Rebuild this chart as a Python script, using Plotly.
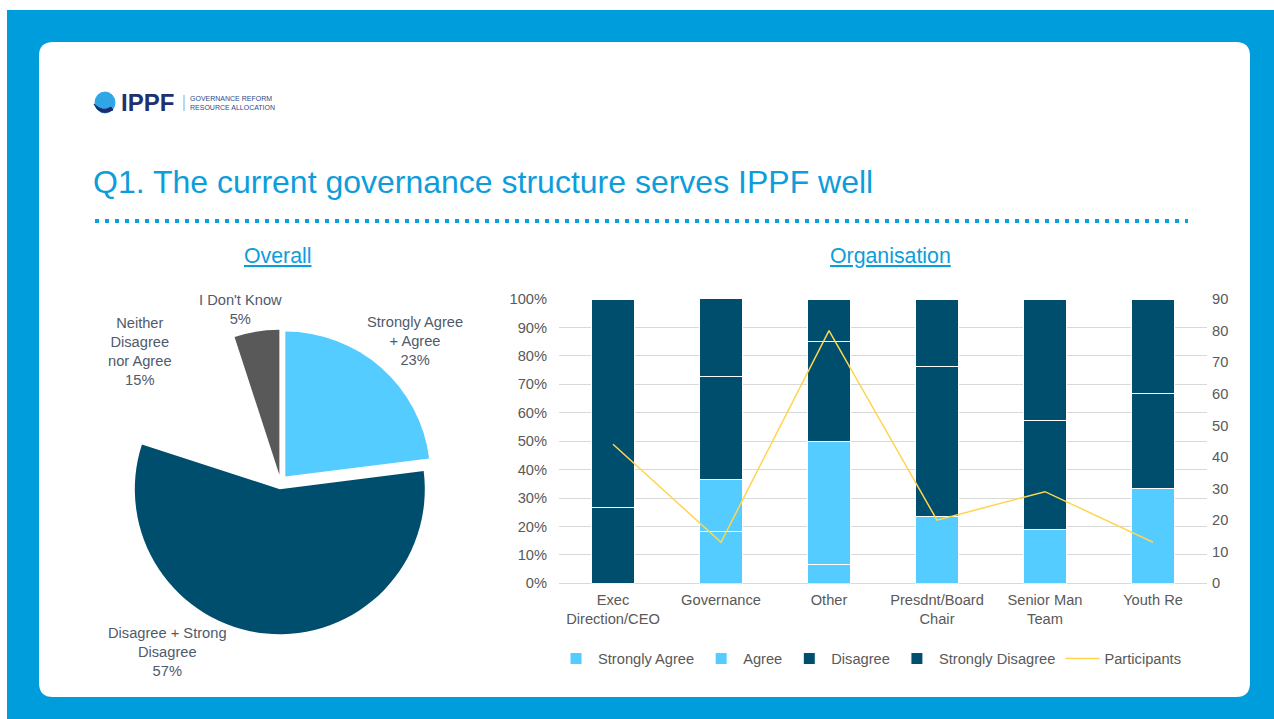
import plotly.graph_objects as go

# ---------------- data ----------------
pie_labels = ["Strongly Agree + Agree", "Disagree + Strong Disagree",
              "Neither Disagree nor Agree", "I Don't Know"]
pie_values = [23, 57, 15, 5]

categories = ["Exec<br>Direction/CEO", "Governance", "Other",
              "Presdnt/Board<br>Chair", "Senior Man<br>Team", "Youth Re"]
strongly_agree = [0, 18.2, 6.7, 0, 0, 0]
agree = [0, 18.2, 43.3, 23.5, 19.0, 33.3]
disagree = [26.7, 36.4, 35.0, 52.9, 38.1, 33.3]
strongly_disagree = [73.3, 27.3, 15.0, 23.5, 42.9, 33.3]
participants = [44, 13, 80, 20, 29, 13]

y_ticks = [0, 10, 20, 30, 40, 50, 60, 70, 80, 90, 100]
y2_ticks = [0, 10, 20, 30, 40, 50, 60, 70, 80, 90]

# ---------------- helpers ----------------
W, H = 1274, 719
def px(x):
    return x / W
def py(y):
    return 1 - y / H

FONT = "Liberation Sans, Arial, sans-serif"
BLUE = "#009DDC"
LIGHT = "#55CCFF"
DARK = "#004E6D"
GRAY_TXT = "#595959"
FS = 14.67

fig = go.Figure()

# ---------------- pie ----------------
pie_cx, pie_cy, pie_r, pull = 280.5, 482, 145, 0.05
half = pie_r * (1 + pull)
fig.add_trace(go.Pie(
    labels=pie_labels, values=pie_values, sort=False, direction="clockwise",
    rotation=0, pull=[pull] * 4, textinfo="none", hoverinfo="skip",
    marker=dict(colors=[LIGHT, DARK, "#FFFFFF", "#595959"], line=dict(width=0)),
    domain=dict(x=[px(pie_cx - half), px(pie_cx + half)],
                y=[py(pie_cy + half), py(pie_cy - half)]),
    showlegend=False,
))

# ---------------- stacked bars ----------------
bar_series = [("Strongly Agree", strongly_agree, LIGHT),
              ("Agree", agree, LIGHT),
              ("Disagree", disagree, DARK),
              ("Strongly Disagree", strongly_disagree, DARK)]
for name, vals, col in bar_series:
    fig.add_trace(go.Bar(
        x=categories, y=vals, name=name, xaxis="x", yaxis="y",
        marker=dict(color=col, line=dict(color="white", width=1)),
        hoverinfo="skip",
    ))

fig.add_trace(go.Scatter(
    x=categories, y=participants, name="Participants", mode="lines",
    xaxis="x", yaxis="y2", line=dict(color="#FFD54F", width=1.5),
    hoverinfo="skip",
))

# ---------------- decorations ----------------
shapes = []
# blue frame
shapes.append(dict(type="rect", xref="paper", yref="paper",
                   x0=px(7), x1=px(1274), y0=py(719), y1=py(10),
                   fillcolor=BLUE, line=dict(width=0), layer="below"))
# rounded white card
x0, y0, x1, y1, r = 39, 42, 1250, 697, 14
path = (f"M {px(x0 + r)},{py(y0)} L {px(x1 - r)},{py(y0)} "
        f"Q {px(x1)},{py(y0)} {px(x1)},{py(y0 + r)} "
        f"L {px(x1)},{py(y1 - r)} Q {px(x1)},{py(y1)} {px(x1 - r)},{py(y1)} "
        f"L {px(x0 + r)},{py(y1)} Q {px(x0)},{py(y1)} {px(x0)},{py(y1 - r)} "
        f"L {px(x0)},{py(y0 + r)} Q {px(x0)},{py(y0)} {px(x0 + r)},{py(y0)} Z")
shapes.append(dict(type="path", xref="paper", yref="paper", path=path,
                   fillcolor="white", line=dict(width=0), layer="below"))
# dotted separator
shapes.append(dict(type="line", xref="paper", yref="paper",
                   x0=px(95), x1=px(1188), y0=py(221), y1=py(221),
                   line=dict(color="#0AA0E2", width=4, dash="4px,6px"),
                   layer="below"))
# logo globe
shapes.append(dict(type="circle", xref="paper", yref="paper",
                   x0=px(95), x1=px(115), y0=py(113), y1=py(92),
                   fillcolor="#2FA7E6", line=dict(color="#2FA7E6", width=1),
                   layer="below"))
shapes.append(dict(type="path", xref="paper", yref="paper",
                   path=(f"M {px(94)},{py(104)} Q {px(100)},{py(117)} {px(113)},{py(110)} "
                         f"L {px(111)},{py(107)} Q {px(103)},{py(113)} {px(94)},{py(104)} Z"),
                   fillcolor="#1E2A6E", line=dict(color="#1E2A6E", width=1), layer="below"))
shapes.append(dict(type="line", xref="paper", yref="paper",
                   x0=px(184), x1=px(184), y0=py(95), y1=py(111),
                   line=dict(color="#5BB8E8", width=1), layer="below"))

annotations = []
annotations.append(dict(xref="paper", yref="paper", x=px(91), y=py(182),
                        xanchor="left", yanchor="middle", showarrow=False,
                        text="Q1. The current governance structure serves IPPF well",
                        font=dict(family=FONT, size=32, color="#0D9DDB")))
annotations.append(dict(xref="paper", yref="paper", x=px(277), y=py(256),
                        xanchor="center", yanchor="middle", showarrow=False,
                        text="<u>Overall</u>",
                        font=dict(family=FONT, size=21.3, color="#0D9DDB")))
annotations.append(dict(xref="paper", yref="paper", x=px(890), y=py(256),
                        xanchor="center", yanchor="middle", showarrow=False,
                        text="<u>Organisation</u>",
                        font=dict(family=FONT, size=21.3, color="#0D9DDB")))
annotations.append(dict(xref="paper", yref="paper", x=px(119), y=py(103),
                        xanchor="left", yanchor="middle", showarrow=False,
                        text="<b>IPPF</b>",
                        font=dict(family=FONT, size=24, color="#22306E")))
annotations.append(dict(xref="paper", yref="paper", x=px(188), y=py(103),
                        xanchor="left", yanchor="middle", showarrow=False,
                        text="GOVERNANCE REFORM<br>RESOURCE ALLOCATION",
                        align="left",
                        font=dict(family=FONT, size=7, color="#2E4A8B")))

# pie labels
wrapped = {
    "Strongly Agree + Agree": "Strongly Agree<br>+ Agree",
    "Disagree + Strong Disagree": "Disagree + Strong<br>Disagree",
    "Neither Disagree nor Agree": "Neither<br>Disagree<br>nor Agree",
    "I Don't Know": "I Don't Know",
}
label_pos = [(415, 341), (167, 652), (140, 352), (240, 309)]
for lab, val, (lx, ly) in zip(pie_labels, pie_values, label_pos):
    annotations.append(dict(xref="paper", yref="paper", x=px(lx), y=py(ly),
                            xanchor="center", yanchor="middle", showarrow=False,
                            text=f"{wrapped[lab]}<br>{val}%", align="center",
                            font=dict(family=FONT, size=FS, color="#4F5A6B")))

fig.update_layout(
    width=W, height=H, margin=dict(l=0, r=0, t=0, b=0, pad=0, autoexpand=False),
    paper_bgcolor="white", plot_bgcolor="rgba(0,0,0,0)",
    font=dict(family=FONT, size=FS, color=GRAY_TXT),
    barmode="stack", bargap=0.6,
    shapes=shapes, annotations=annotations,
    xaxis=dict(domain=[px(559), px(1207)], anchor="y", showgrid=False,
               showline=False, zeroline=False, ticks="", automargin=False,
               ticklabelstandoff=6,
               tickfont=dict(family=FONT, size=FS, color=GRAY_TXT)),
    yaxis=dict(domain=[py(583.3), py(299)], range=[0, 100],
               tickvals=y_ticks, ticktext=[f"{v}%" for v in y_ticks],
               showgrid=True, gridcolor="#D9D9D9", gridwidth=1,
               zeroline=True, zerolinecolor="#D9D9D9", zerolinewidth=1,
               showline=False, ticks="", ticklabelstandoff=11, automargin=False,
               tickfont=dict(family=FONT, size=FS, color=GRAY_TXT)),
    yaxis2=dict(overlaying="y", side="right", anchor="x", range=[0, 90],
                tickvals=y2_ticks, showgrid=False, zeroline=False,
                showline=False, ticks="", ticklabelstandoff=4, automargin=False,
                tickfont=dict(family=FONT, size=FS, color=GRAY_TXT)),
    legend=dict(orientation="h", x=px(554), xanchor="left",
                y=py(659), yanchor="middle", bgcolor="rgba(0,0,0,0)",
                font=dict(family=FONT, size=FS, color=GRAY_TXT),
                traceorder="normal", itemclick=False, itemwidth=34),
)

fig.write_html(
    "out.html",
    config={"displayModeBar": False, "responsive": False},
    post_script="document.body.style.margin='0';document.body.style.overflow='hidden';",
)
